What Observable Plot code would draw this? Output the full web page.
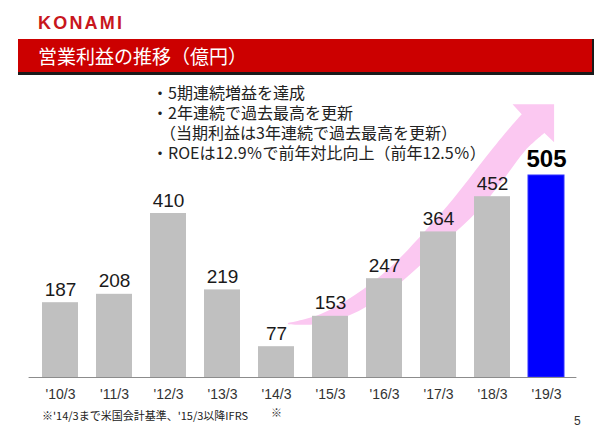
<!DOCTYPE html>
<html>
<head>
<meta charset="utf-8">
<script src="https://cdn.jsdelivr.net/npm/d3@7"></script>
<script src="https://cdn.jsdelivr.net/npm/@observablehq/plot@0.6"></script>
<style>
  body { margin: 0; background: #ffffff; }
  #page { position: relative; width: 600px; height: 437px; overflow: hidden; font-family: "Noto Sans CJK JP", sans-serif; }
  #chart { position: absolute; left: 0; top: 0; }
  #logo { position: absolute; left: 38px; top: 13px; line-height: 18px; color: #c8161d; font: bold 18px "Liberation Sans", Arial, sans-serif; letter-spacing: 2.2px; }
  #band { position: absolute; left: 18px; top: 39px; width: 574px; height: 33px; background: #cc0000; border-bottom: 3px solid #1a1a1a; border-right: 2px solid #1a1a1a; }
  #title { position: absolute; left: 20px; top: 0; line-height: 33px; color: #ffffff; font-size: 19px; white-space: nowrap; }
  #bullets { position: absolute; left: 152px; top: 82px; font-size: 16px; line-height: 20px; color: #222; white-space: pre; }
  #foot { position: absolute; left: 42px; top: 408px; font-size: 11px; line-height: 14px; color: #222; white-space: nowrap; }
  #pnum { position: absolute; left: 574px; top: 414px; font: 12px "Liberation Sans", Arial, sans-serif; color: #333; }
</style>
</head>
<body>
<div id="page">
  <div id="chart"></div>
  <div id="logo">KONAMI</div>
  <div id="band"><div id="title"></div></div>
  <div id="bullets"></div>
  <div id="foot"></div>
  <div id="pnum"></div>
</div>
<script>
// ---- data ----
const years = ["'10/3", "'11/3", "'12/3", "'13/3", "'14/3", "'15/3", "'16/3", "'17/3", "'18/3", "'19/3"];
const values = [187, 208, 410, 219, 77, 153, 247, 364, 452, 505];
const highlightYear = "'19/3";
const markedYears = ["'14/3"];
const markSymbol = "※";
const titleText = "営業利益の推移（億円）";
const bulletLines = [
  "・5期連続増益を達成",
  "・2年連続で過去最高を更新",
  "　（当期利益は3年連続で過去最高を更新）",
  "・ROEは12.9％で前年対比向上（前年12.5％）"
];
const footnote = "※'14/3まで米国会計基準、'15/3以降IFRS";
const pageNumber = "5";
// decorative arrow outline: [category-step offset from first bar, value units]
const arrowUpper = [[4.22,135],[4.82,157],[5.46,205],[6.10,272],[6.74,362],[7.29,447],[7.84,542],[8.29,617],[8.55,657]];
const arrowHead = [[8.38,682],[9.15,682],[9.15,587]];
const arrowLower = [[8.97,610],[8.62,567],[8.20,492],[7.71,412],[7.16,342],[6.61,272],[6.01,205],[5.37,155],[4.73,132],[4.22,132]];

const table = years.map((year, i) => ({year, value: values[i]}));

// ---- header & text ----
document.getElementById("title").textContent = titleText;
document.getElementById("bullets").textContent = bulletLines.join("\n");
document.getElementById("foot").textContent = footnote;
document.getElementById("pnum").textContent = pageNumber;

// ---- arrow mark (through scales) ----
function arrowMark(index, scales) {
  const x = scales.x, y = scales.y;
  const step = x(years[1]) - x(years[0]);
  const bw = typeof x.bandwidth === "function" ? x.bandwidth() : (x.bandwidth ?? step * (1 - 0.3425));
  const x0 = x(years[0]) + bw / 2;
  const toPx = ([t, v]) => [x0 + t * step, y(v)];
  const curve = d3.line().curve(d3.curveCatmullRom.alpha(0.5));
  const up = arrowUpper.map(toPx), head = arrowHead.map(toPx), low = arrowLower.map(toPx);
  const d = curve(up) + "L" + head.map(p => p.join(",")).join("L") + "L" + curve(low).slice(1) + "Z";
  const p = document.createElementNS("http://www.w3.org/2000/svg", "path");
  p.setAttribute("d", d);
  p.setAttribute("fill", "#fbc8f1");
  return p;
}

const chart = Plot.plot({
  width: 600,
  height: 437,
  marginTop: 57,
  marginBottom: 60,
  marginLeft: 28.6,
  marginRight: 23.6,
  style: {background: "transparent", fontFamily: "'Liberation Sans', Arial, sans-serif"},
  x: {domain: years, paddingInner: 0.3425, paddingOuter: 0.171, align: 0.5, axis: null},
  y: {domain: [0, 800], axis: null},
  marks: [
    arrowMark,
    Plot.barY(table.filter(d => d.year !== highlightYear), {x: "year", y: "value", fill: "#c0c0c0"}),
    Plot.barY(table.filter(d => d.year === highlightYear), {x: "year", y: "value", fill: "#0000ff", stroke: "#3030ff", strokeWidth: 1}),
    Plot.ruleY([0], {stroke: "#8c8c8c", strokeWidth: 1}),
    Plot.text(table.filter(d => d.year !== highlightYear), {x: "year", y: "value", text: d => String(d.value), lineAnchor: "bottom", dy: -7, fontSize: 19, fill: "#1a1a1a"}),
    Plot.text(table.filter(d => d.year === highlightYear), {x: "year", y: "value", text: d => String(d.value), lineAnchor: "bottom", dy: -9, fontSize: 24, fontWeight: "bold", fill: "#000"}),
    // x tick labels
    Plot.text(years, {x: d => d, frameAnchor: "bottom", lineAnchor: "top", dy: 12, fontSize: 14, fill: "#333"}),
    Plot.text(markedYears, {x: d => d, text: () => markSymbol, frameAnchor: "bottom", lineAnchor: "middle", dy: 36, fontSize: 11, fill: "#333", fontFamily: "'Noto Sans CJK JP', sans-serif"})
  ]
});
document.getElementById("chart").appendChild(chart);
</script>
</body>
</html>
